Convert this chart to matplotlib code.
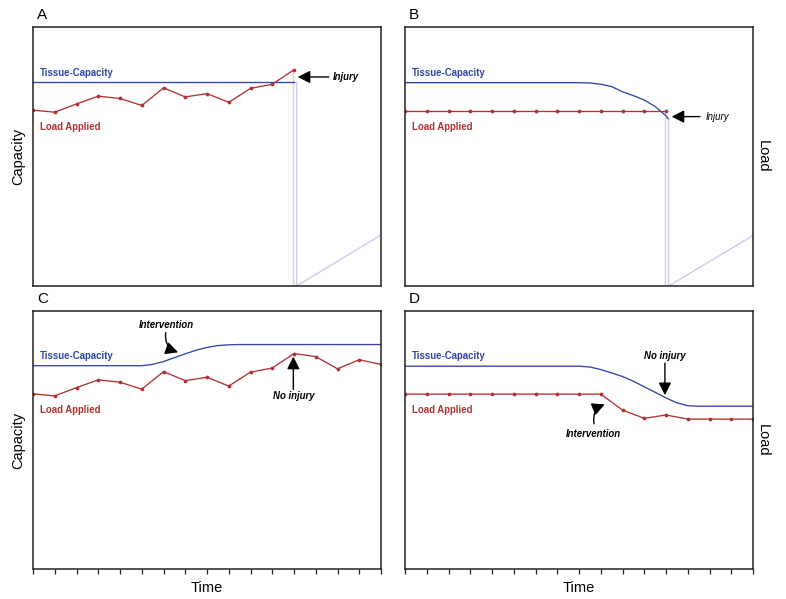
import matplotlib
matplotlib.use("Agg")
import matplotlib.pyplot as plt

plt.rcParams['font.family'] = ['Liberation Sans', 'DejaVu Sans']

BLUE = "#2f45a8"
RED = "#b03232"
PINK = "#f2c6ca"
LAVENDER = "#cccbef"

# time axis: 16 steps
ticks = list(range(17))

# load applied (same pattern in A and C)
load_t = list(range(13))
load_a = [67.9, 67.1, 70.3, 73.3, 72.4, 69.7, 76.5, 73.0, 74.3, 70.9, 76.3, 77.9, 83.5]
load_c = [67.9, 67.1, 70.3, 73.3, 72.4, 69.7, 76.5, 73.0, 74.3, 70.9, 76.3, 77.9,
          83.5, 82.3, 77.6, 81.1, 79.3]
load_b = [67.6] * 13
load_d = [67.8] * 10 + [61.6, 58.4, 59.7, 58.1, 58.1, 58.1, 58.1]

# tissue capacity
cap_a_t = [0, 12]
cap_a = [78.8, 78.8]

cap_b_t = [0, 8, 8.5, 9, 9.5, 10, 10.5, 11, 11.5, 12, 12.1]
cap_b = [78.5, 78.5, 78.4, 77.9, 77.0, 75.0, 73.5, 71.8, 69.3, 65.7, 64.6]

cap_c_t = [0, 5, 5.5, 6, 6.5, 7, 7.5, 8, 8.5, 9, 9.5, 16]
cap_c = [78.8, 78.8, 79.3, 80.4, 81.9, 83.4, 84.8, 85.9, 86.6, 86.9, 87.0, 87.0]

cap_d_t = [0, 8, 8.5, 9, 9.5, 10, 10.5, 11, 11.5, 12, 12.5, 13, 13.5, 16]
cap_d = [78.6, 78.6, 78.3, 77.3, 76.0, 74.6, 72.8, 70.6, 68.5, 66.3, 64.4, 63.3, 63.1, 63.1]

# faint traces after the injury
drop_a_red = ([11.97, 11.97], [83.5, 0])
drop_a_blue = ([12.12, 12.12, 16], [78.8, 0, 19.7])
drop_b_red = ([11.97, 11.97], [67.6, 0])
drop_b_blue = ([12.12, 12.12, 16], [64.6, 0, 19.5])

fig = plt.figure(figsize=(7.86, 5.99), dpi=100)
W, H = 786, 599


def make_ax(x0, y0, x1, y1):
    return fig.add_axes([x0 / W, 1 - y1 / H, (x1 - x0) / W, (y1 - y0) / H])


axA = make_ax(33, 27, 381, 286)
axB = make_ax(405, 27, 753, 286)
axC = make_ax(33, 311, 381, 569)
axD = make_ax(405, 311, 753, 569)

for ax, letter in zip([axA, axB, axC, axD], "ABCD"):
    ax.set_xlim(0, 16)
    ax.set_ylim(0, 100)
    ax.set_yticks([])
    for s in ax.spines.values():
        s.set_linewidth(1.1)
        s.set_color("#222222")
    ax.text(0.011, 1.048, letter, transform=ax.transAxes, fontsize=11,
            ha="left", va="center")
    ax.text(0.33, 82.4, "Tissue-Capacity", color=BLUE, fontsize=6.9,
            fontweight="bold", va="center")
    ax.text(0.33, 61.5, "Load Applied", color=RED, fontsize=6.9,
            fontweight="bold", va="center")

for ax in [axA, axB]:
    ax.set_xticks([])
for ax in [axC, axD]:
    ax.set_xticks(ticks)
    ax.set_xticklabels([])
    ax.tick_params(axis="x", direction="out", length=3.5, width=0.9, color="#222222")
    ax.set_xlabel("Time", fontsize=10.5)
    ax.xaxis.set_label_coords(0.5, -0.046)

for ax in [axA, axC]:
    ax.set_ylabel("Capacity", fontsize=10.5)
    ax.yaxis.set_label_coords(-0.023, 0.5)
for ax in [axB, axD]:
    ax.yaxis.set_label_position("right")
    ax.set_ylabel("Load", fontsize=10.5, rotation=270, va="center")
    ax.yaxis.set_label_coords(1.027, 0.5)

lw = 0.95
ms = 1.7
head = "-|>,head_length=0.75,head_width=0.38"

# panel A
axA.plot(*drop_a_red, color=PINK, lw=1)
axA.plot(*drop_a_blue, color=LAVENDER, lw=1)
axA.plot(cap_a_t, cap_a, color=BLUE, lw=lw)
axA.plot(load_t, load_a, color=RED, lw=lw, marker="o", ms=ms)
axA.annotate("", xy=(12.17, 80.7), xytext=(13.6, 80.7),
             arrowprops=dict(arrowstyle=head, color="black", lw=1,
                             shrinkA=0, shrinkB=0))
axA.text(13.8, 80.7, "Injury", fontsize=6.9, style="italic", fontweight="bold",
         va="center", ha="left")

# panel B
axB.plot(*drop_b_red, color=PINK, lw=1)
axB.plot(*drop_b_blue, color=LAVENDER, lw=1)
axB.plot(cap_b_t, cap_b, color=BLUE, lw=lw)
axB.plot(load_t, load_b, color=RED, lw=lw, marker="o", ms=ms)
axB.annotate("", xy=(12.26, 65.4), xytext=(13.56, 65.4),
             arrowprops=dict(arrowstyle=head, color="black", lw=1,
                             shrinkA=0, shrinkB=0))
axB.text(13.84, 65.4, "Injury", fontsize=6.9, style="italic",
         va="center", ha="left")

# panel C
axC.plot(cap_c_t, cap_c, color=BLUE, lw=lw)
axC.plot(ticks, load_c, color=RED, lw=lw, marker="o", ms=ms)
axC.text(6.15, 94.6, "Intervention", fontsize=6.9, style="italic",
         fontweight="bold", ha="center", va="center")
axC.annotate("", xy=(6.67, 84.0), xytext=(6.1, 91.6),
             arrowprops=dict(arrowstyle=head, color="black", lw=1,
                             shrinkA=0, shrinkB=0,
                             connectionstyle="arc3,rad=0.4"))
axC.text(11.97, 67.1, "No injury", fontsize=6.9, style="italic",
         fontweight="bold", ha="center", va="center")
axC.annotate("", xy=(11.97, 82.3), xytext=(11.97, 69.6),
             arrowprops=dict(arrowstyle=head, color="black", lw=1,
                             shrinkA=0, shrinkB=0))

# panel D
axD.plot(cap_d_t, cap_d, color=BLUE, lw=lw)
axD.plot(ticks, load_d, color=RED, lw=lw, marker="o", ms=ms)
axD.text(11.95, 82.7, "No injury", fontsize=6.9, style="italic",
         fontweight="bold", ha="center", va="center")
axD.annotate("", xy=(11.95, 67.4), xytext=(11.95, 79.8),
             arrowprops=dict(arrowstyle=head, color="black", lw=1,
                             shrinkA=0, shrinkB=0))
axD.text(8.66, 52.2, "Intervention", fontsize=6.9, style="italic",
         fontweight="bold", ha="center", va="center")
axD.annotate("", xy=(9.18, 63.8), xytext=(8.69, 56.3),
             arrowprops=dict(arrowstyle=head, color="black", lw=1,
                             shrinkA=0, shrinkB=0,
                             connectionstyle="arc3,rad=-0.4"))

fig.savefig("out.png", dpi=100)
